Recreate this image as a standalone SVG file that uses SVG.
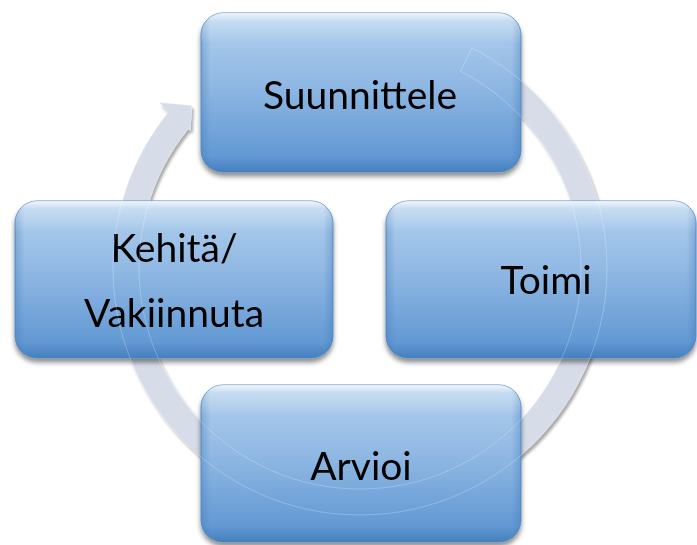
<svg xmlns="http://www.w3.org/2000/svg" width="697" height="545" viewBox="0 0 697 545">
  <defs>
    <linearGradient id="boxFill" x1="0" y1="0" x2="0" y2="1">
      <stop offset="0" stop-color="#b3d0ee"/>
      <stop offset="0.45" stop-color="#8fb8e3"/>
      <stop offset="1" stop-color="#5992d0"/>
    </linearGradient>
    <linearGradient id="boxGloss" x1="0" y1="0" x2="0" y2="1">
      <stop offset="0" stop-color="#ffffff" stop-opacity="0.8"/>
      <stop offset="0.05" stop-color="#ffffff" stop-opacity="0.3"/>
      <stop offset="0.2" stop-color="#ffffff" stop-opacity="0"/>
      <stop offset="0.9" stop-color="#2f6aa8" stop-opacity="0"/>
      <stop offset="1" stop-color="#2f6aa8" stop-opacity="0.45"/>
    </linearGradient>
    <linearGradient id="boxSides" x1="0" y1="0" x2="1" y2="0">
      <stop offset="0" stop-color="#3d75b3" stop-opacity="0.35"/>
      <stop offset="0.03" stop-color="#3d75b3" stop-opacity="0"/>
      <stop offset="0.97" stop-color="#3d75b3" stop-opacity="0"/>
      <stop offset="1" stop-color="#3d75b3" stop-opacity="0.35"/>
    </linearGradient>
    <filter id="boxShadow" x="-10%" y="-10%" width="120%" height="130%">
      <feGaussianBlur in="SourceAlpha" stdDeviation="2.5"/>
      <feOffset dx="0" dy="4" result="b"/>
      <feComponentTransfer><feFuncA type="linear" slope="0.45"/></feComponentTransfer>
      <feMerge><feMergeNode/><feMergeNode in="SourceGraphic"/></feMerge>
    </filter>
    <filter id="ringShadow" x="-10%" y="-10%" width="120%" height="120%">
      <feGaussianBlur in="SourceAlpha" stdDeviation="1.5"/>
      <feOffset dx="2" dy="3" result="b"/>
      <feComponentTransfer><feFuncA type="linear" slope="0.35"/></feComponentTransfer>
      <feMerge><feMergeNode/><feMergeNode in="SourceGraphic"/></feMerge>
    </filter>
    <path id="ringShape" d="M472.1,47.9 A247,247 0 1 1 168.0,112.6 L159.4,102.6 L191.7,105.4 L190.6,130.8 L188.3,128.9 A221,221 0 1 0 460.3,71.1 Z"/>
  </defs>
  <style>
    .box { fill: url(#boxFill); stroke: #5a8fc9; stroke-width: 1; }
    .gloss { fill: url(#boxGloss); }
    .sides { fill: url(#boxSides); }
    .label { font-family: Lato, "Open Sans", "Liberation Sans", sans-serif; font-size: 39px; fill: #000000; text-anchor: middle; }
    .ring { fill: #d6dde9; }
    .ringEdge { fill: none; stroke: #ffffff; stroke-width: 0.7; stroke-opacity: 0.35; }
  </style>

  <rect width="697" height="545" fill="#ffffff"/>

  <!-- circular flow arrow behind the steps -->
  <g id="connectors">
    <use href="#ringShape" class="ring" filter="url(#ringShadow)"/>
  </g>

  <g id="node-suunnittele" filter="url(#boxShadow)">
    <rect class="box" x="201" y="13" width="320" height="159" rx="22"/>
    <rect class="sides" x="201" y="13" width="320" height="159" rx="22"/>
    <rect class="gloss" x="201" y="13" width="320" height="159" rx="22"/>
    <text class="label" x="360" y="109">Suunnittele</text>
  </g>

  <g id="node-toimi" filter="url(#boxShadow)">
    <rect class="box" x="386" y="201" width="310" height="157" rx="22"/>
    <rect class="sides" x="386" y="201" width="310" height="157" rx="22"/>
    <rect class="gloss" x="386" y="201" width="310" height="157" rx="22"/>
    <text class="label" x="546" y="294">Toimi</text>
  </g>

  <g id="node-arvioi" filter="url(#boxShadow)">
    <rect class="box" x="201" y="385" width="320" height="157" rx="22"/>
    <rect class="sides" x="201" y="385" width="320" height="157" rx="22"/>
    <rect class="gloss" x="201" y="385" width="320" height="157" rx="22"/>
    <text class="label" x="361" y="480">Arvioi</text>
  </g>

  <g id="node-kehita" filter="url(#boxShadow)">
    <rect class="box" x="15" y="201" width="318" height="157" rx="22"/>
    <rect class="sides" x="15" y="201" width="318" height="157" rx="22"/>
    <rect class="gloss" x="15" y="201" width="318" height="157" rx="22"/>
    <text class="label" x="174" y="262">Kehitä/</text>
    <text class="label" x="174" y="327">Vakiinnuta</text>
  </g>

  <!-- faint outline of the arrow showing through the steps -->
  <g id="connector-outline">
    <use href="#ringShape" class="ringEdge"/>
  </g>
</svg>
